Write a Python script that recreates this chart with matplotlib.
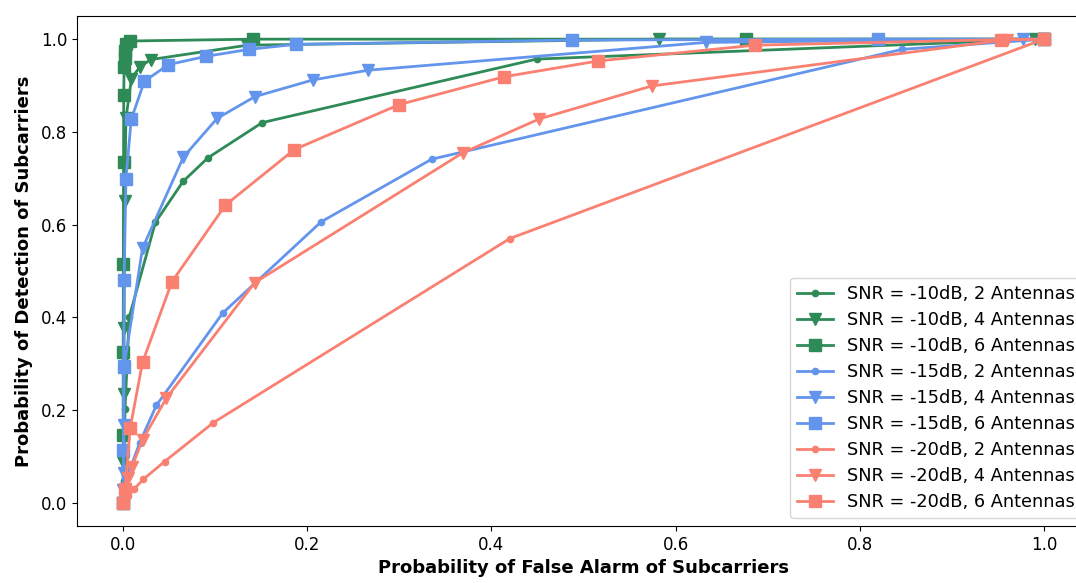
import matplotlib
matplotlib.use("Agg")
import matplotlib.pyplot as plt

# ROC points (Pfa, Pd)
fa_10_2 = [0, 0.0005, 0.002, 0.0065, 0.035, 0.065, 0.092, 0.151, 0.449, 1.0]
pd_10_2 = [0, 0.046, 0.203, 0.400, 0.605, 0.693, 0.744, 0.820, 0.957, 1.0]

fa_10_4 = [0, 0.0002, 0.0005, 0.001, 0.0015, 0.003, 0.009, 0.018, 0.030, 0.135, 0.582, 0.99, 1.0]
pd_10_4 = [0, 0.089, 0.235, 0.376, 0.650, 0.829, 0.915, 0.940, 0.956, 0.987, 1.0, 1.0, 1.0]

fa_10_6 = [0, 0, 0, 0.0002, 0.0004, 0.0006, 0.001, 0.0015, 0.002, 0.003, 0.0076, 0.141, 0.676, 1.0]
pd_10_6 = [0, 0.147, 0.326, 0.515, 0.736, 0.879, 0.940, 0.960, 0.975, 0.990, 0.996, 1.0, 1.0, 1.0]

fa_15_2 = [0, 0.002, 0.007, 0.018, 0.036, 0.108, 0.215, 0.335, 0.846, 1.0]
pd_15_2 = [0, 0.030, 0.070, 0.130, 0.210, 0.409, 0.606, 0.741, 0.978, 1.0]

fa_15_4 = [0, 0.0003, 0.0005, 0.0008, 0.001, 0.021, 0.0655, 0.102, 0.143, 0.206, 0.266, 0.633, 0.977, 1.0]
pd_15_4 = [0, 0.028, 0.065, 0.167, 0.294, 0.549, 0.746, 0.829, 0.876, 0.912, 0.933, 0.993, 1.0, 1.0]

fa_15_6 = [0, 0.0003, 0.0005, 0.001, 0.003, 0.0087, 0.023, 0.049, 0.090, 0.137, 0.188, 0.488, 0.820, 1.0]
pd_15_6 = [0, 0.113, 0.293, 0.481, 0.698, 0.827, 0.909, 0.945, 0.963, 0.978, 0.989, 0.998, 1.0, 1.0]

fa_20_2 = [0, 0.005, 0.012, 0.022, 0.045, 0.098, 0.420, 1.0]
pd_20_2 = [0, 0.015, 0.030, 0.051, 0.089, 0.173, 0.570, 1.0]

fa_20_4 = [0, 0.002, 0.005, 0.0094, 0.021, 0.047, 0.143, 0.369, 0.452, 0.574, 0.96, 1.0]
pd_20_4 = [0, 0.020, 0.053, 0.077, 0.136, 0.226, 0.475, 0.755, 0.828, 0.899, 0.999, 1.0]

fa_20_6 = [0, 0.002, 0.0076, 0.021, 0.053, 0.111, 0.186, 0.300, 0.414, 0.516, 0.686, 0.953, 1.0]
pd_20_6 = [0, 0.030, 0.161, 0.303, 0.477, 0.642, 0.762, 0.859, 0.919, 0.953, 0.987, 0.999, 1.0]

series = [
    (fa_10_2, pd_10_2, "seagreen", ".", "SNR = -10dB, 2 Antennas"),
    (fa_10_4, pd_10_4, "seagreen", "v", "SNR = -10dB, 4 Antennas"),
    (fa_10_6, pd_10_6, "seagreen", "s", "SNR = -10dB, 6 Antennas"),
    (fa_15_2, pd_15_2, "cornflowerblue", ".", "SNR = -15dB, 2 Antennas"),
    (fa_15_4, pd_15_4, "cornflowerblue", "v", "SNR = -15dB, 4 Antennas"),
    (fa_15_6, pd_15_6, "cornflowerblue", "s", "SNR = -15dB, 6 Antennas"),
    (fa_20_2, pd_20_2, "salmon", ".", "SNR = -20dB, 2 Antennas"),
    (fa_20_4, pd_20_4, "salmon", "v", "SNR = -20dB, 4 Antennas"),
    (fa_20_6, pd_20_6, "salmon", "s", "SNR = -20dB, 6 Antennas"),
]

fig = plt.figure(figsize=(10.76, 5.83), dpi=100)
ax = fig.add_axes([0.0717, 0.0978, 0.9412, 0.8748])

for x, y, c, m, lab in series:
    ax.plot(x, y, color=c, marker=m, markersize=9, linewidth=2, label=lab)

ax.set_xlabel("Probability of False Alarm of Subcarriers", fontsize=13, fontweight="bold")
ax.set_ylabel("Probability of Detection of Subcarriers", fontsize=13, fontweight="bold",
              labelpad=6)
ax.tick_params(labelsize=12)
ax.legend(loc="lower right", fontsize=12.8, labelspacing=0.45, borderaxespad=0.45)

fig.savefig("out.png", dpi=100)
